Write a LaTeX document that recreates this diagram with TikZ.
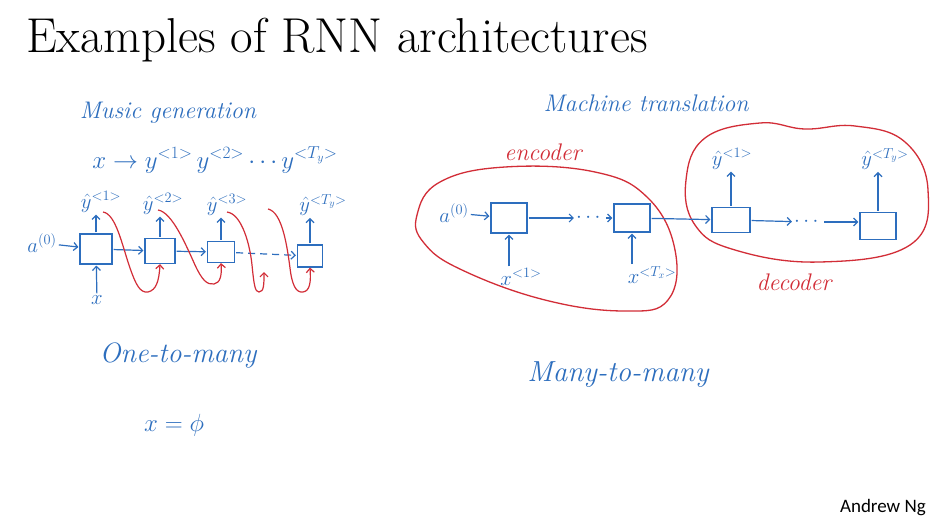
\documentclass[tikz,border=0pt]{standalone}
\usepackage{fontspec}
\usepackage{amsmath}
\newfontfamily\ngfont{Carlito}
\usetikzlibrary{arrows.meta}
\definecolor{ink}{RGB}{45,110,190}
\definecolor{redink}{RGB}{210,45,55}
\begin{document}
\begin{tikzpicture}[x=1pt,y=-1pt,
  cell/.style={draw=ink, line width=1.2pt, inner sep=0pt},
  hand/.style={text=ink, inner sep=1pt, font=\fontsize{24}{28}\selectfont\itshape},
  lab/.style={text=ink, inner sep=1pt, font=\fontsize{20}{24}\selectfont},
  redlab/.style={text=redink, inner sep=1pt, font=\fontsize{24}{28}\selectfont\itshape},
  arr/.style={draw=ink, line width=1.2pt, -{Straight Barb[length=4pt,width=8pt]}, shorten >=1pt, shorten <=1pt},
  redarr/.style={draw=redink, line width=1.2pt, -{Straight Barb[length=4pt,width=8pt]}},
  blob/.style={draw=redink, line width=1.3pt}]
\useasboundingbox (0,0) rectangle (942,530);
\fill[white] (0,0) rectangle (942,530);

% title and credit
\node[anchor=base west, inner sep=0pt, font=\fontsize{49}{57}\selectfont] (title) at (26,52) {Examples of RNN architectures};
\node[anchor=base east, inner sep=0pt, font=\ngfont\fontsize{19}{22}\selectfont] (credit) at (926,512) {Andrew Ng};

% ---------- left: music generation ----------
\node[hand] (music) at (168,113) {Music generation};
\node[lab, font=\fontsize{25}{30}\selectfont] (mapping) at (215,160) {$x \rightarrow y^{<1>}\,y^{<2>}\cdots y^{<T_y>}$};

\node[cell, minimum width=32pt, minimum height=30pt] (c1) at (96,249) {};
\node[cell, minimum width=30pt, minimum height=25pt] (c2) at (160,251) {};
\node[cell, minimum width=27pt, minimum height=21pt] (c3) at (221,252) {};
\node[cell, minimum width=25pt, minimum height=22pt] (c4) at (310,256) {};

\node[lab] (a0) at (42,243) {$a^{(0)}$};
\node[lab] (xin) at (97,300) {$x$};
\node[lab] (y1) at (101,202) {$\hat{y}^{<1>}$};
\node[lab] (y2) at (163,204) {$\hat{y}^{<2>}$};
\node[lab] (y3) at (227,205) {$\hat{y}^{<3>}$};
\node[lab] (yT) at (323,205) {$\hat{y}^{<T_y>}$};

\draw[arr] (a0) -- (c1);
\draw[arr] (xin) -- (c1);
\draw[arr] (c1.north) -- (c1.north |- y1.south);
\draw[arr] (c2.north) -- (c2.north |- y2.south);
\draw[arr] (c3.north) -- (c3.north |- y3.south);
\draw[arr] (c4.north) -- (c4.north |- yT.south);
\draw[arr] (c1) -- (c2);
\draw[arr] (c2) -- (c3);
\draw[arr, dash pattern=on 7pt off 5pt] (c3) -- (c4);

\coordinate (r1) at (103,212);
\coordinate (r2) at (158,210);
\coordinate (r3) at (227,212);
\coordinate (r3e) at (264,272);
\coordinate (r4) at (268,209);
\draw[redarr] (r1) .. controls (116,214) and (122,245) .. (130,268)
  .. controls (136,285) and (140,293) .. (148,292)
  .. controls (156,290) and (159,282) .. (c2.south);
\draw[redarr] (r2) .. controls (172,212) and (186,245) .. (195,265)
  .. controls (202,280) and (207,285) .. (214,284)
  .. controls (220,283) and (222,276) .. (c3.south);
\draw[redarr] (r3) .. controls (242,214) and (250,245) .. (252,265)
  .. controls (254,285) and (255,292) .. (259,292)
  .. controls (264,292) and (264,284) .. (r3e);
\draw[redarr] (r4) .. controls (282,212) and (287,245) .. (290,268)
  .. controls (292,285) and (296,293) .. (303,292)
  .. controls (310,291) and (311,282) .. (c4.south);

\node[hand, font=\fontsize{28}{32}\selectfont\itshape] (onemany) at (178,355) {One-to-many};
\node[lab, font=\fontsize{24}{28}\selectfont] (xphi) at (174,425) {$x = \phi$};

% ---------- right: machine translation ----------
\node[hand] (mt) at (646,103) {Machine translation};
\node[redlab] (enc) at (543,152) {encoder};
\node[redlab] (dec) at (794,282) {decoder};

\draw[blob] plot[smooth cycle, tension=0.7] coordinates {(417,215) (440,182) (505,167) (595,172) (648,198) (675,250) (668,300) (625,311) (545,300) (462,270) (424,243)};
\draw[blob] plot[smooth cycle, tension=0.7] coordinates {(686,180) (705,138) (760,123) (805,129) (855,126) (905,142) (928,190) (910,245) (820,262) (735,250) (695,225)};

\node[cell, minimum width=36pt, minimum height=30pt] (e1) at (509,218) {};
\node[cell, minimum width=36pt, minimum height=28pt] (e2) at (632,218) {};
\node[lab] (ea0) at (454,213) {$a^{(0)}$};
\node[lab] (ex1) at (521,277) {$x^{<1>}$};
\node[lab] (exT) at (652,275) {$x^{<T_x>}$};
\node[lab] (edots) at (590,218) {$\cdots$};

\draw[arr] (ea0) -- (e1);
\draw[arr] (ex1.north -| e1.south) -- (e1.south);
\draw[arr] (exT.north -| e2.south) -- (e2.south);
\draw[arr] (e1) -- (edots);
\draw[arr] (edots) -- (e2);

\node[cell, minimum width=38pt, minimum height=25pt] (d1) at (731,220) {};
\node[cell, minimum width=36pt, minimum height=27pt] (dT) at (878,226) {};
\node[lab] (dy1) at (732,159) {$\hat{y}^{<1>}$};
\node[lab] (dyT) at (885,159) {$\hat{y}^{<T_y>}$};
\node[lab] (ddots) at (808,222) {$\cdots$};

\draw[arr] (e2) -- (d1);
\draw[arr] (d1.north) -- (d1.north |- dy1.south);
\draw[arr] (dT.north) -- (dT.north |- dyT.south);
\draw[arr] (d1) -- (ddots);
\draw[arr] (ddots) -- (ddots -| dT.west);

\node[hand, font=\fontsize{29}{33}\selectfont\itshape] (manymany) at (618,375) {Many-to-many};
\end{tikzpicture}
\end{document}
